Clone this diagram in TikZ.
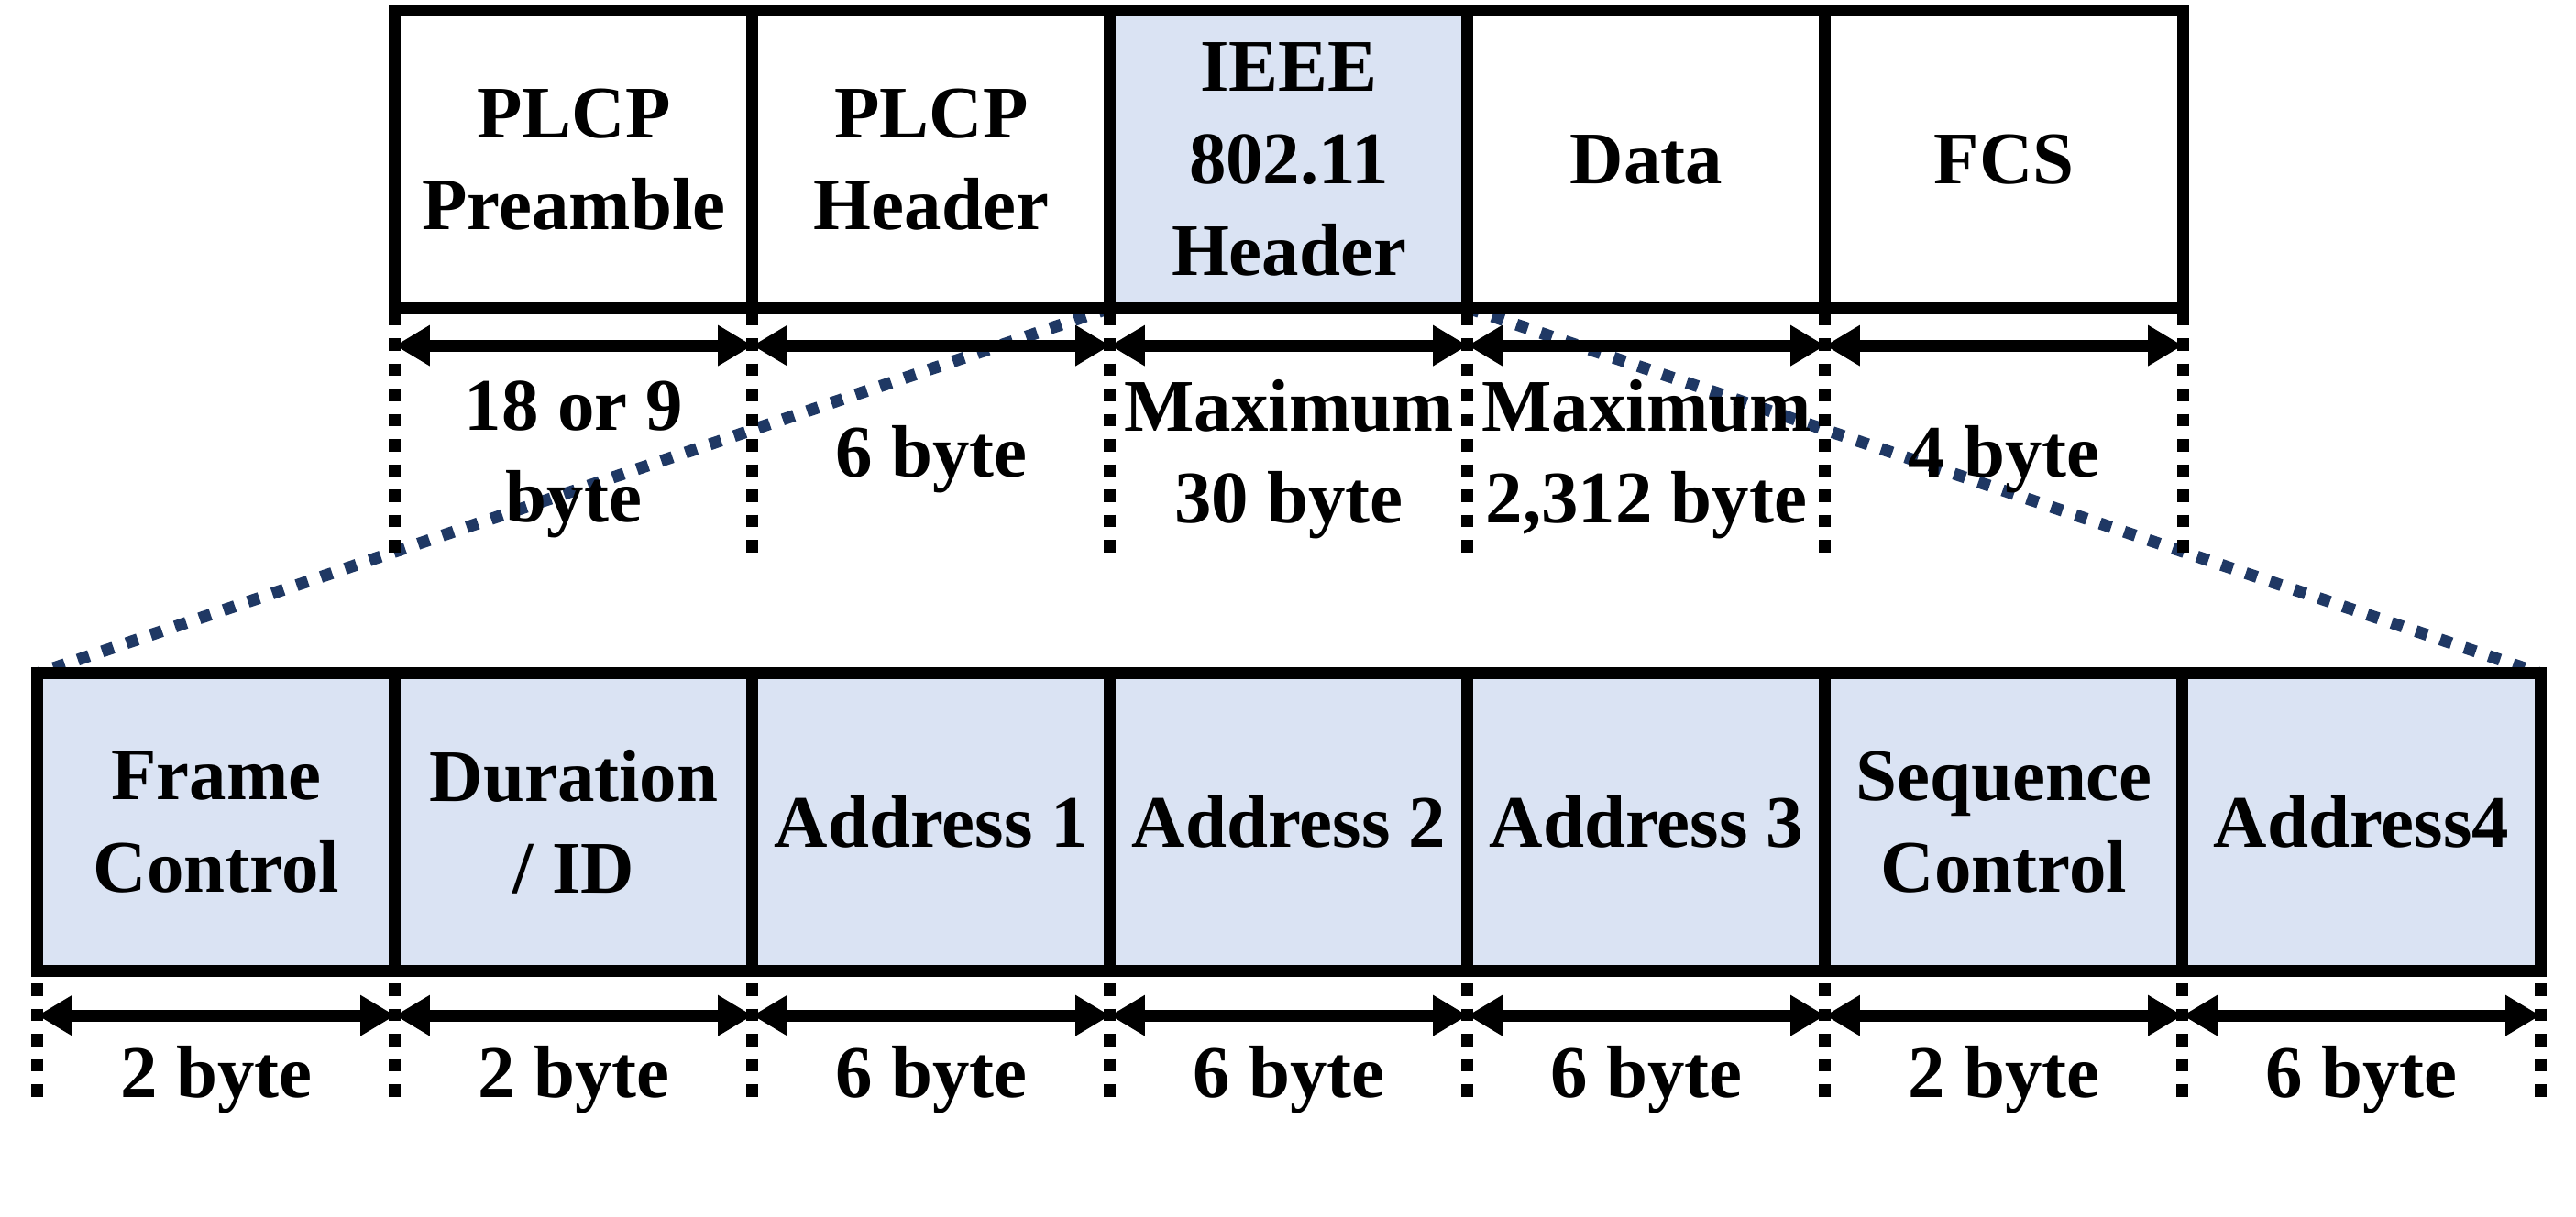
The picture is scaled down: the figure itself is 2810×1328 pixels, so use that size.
\documentclass[tikz,border=0pt]{standalone}
\usepackage{fontspec}
\setmainfont{Liberation Serif}
\usepackage{xcolor}
\usepackage{tikz}
\usetikzlibrary{arrows.meta,backgrounds}
\definecolor{hdrblue}{HTML}{DAE3F3}
\definecolor{zoomblue}{HTML}{1F3864}

\begin{document}
\begin{tikzpicture}[x=0.01cm, y=-0.01cm, font=\bfseries\fontsize{23}{28.5}\selectfont,
  field/.style={draw, line width=0.13cm, minimum width=3.9cm, minimum height=3.24cm,
    inner sep=0pt, outer sep=0pt, align=center},
  size/.style={align=center, inner sep=0pt},
  span/.style={line width=0.13cm,
    {Triangle[length=0.38cm,width=0.42cm]}-{Triangle[length=0.38cm,width=0.42cm]}},
  guide/.style={line width=0.13cm, dash pattern=on 0.135cm off 0.14cm},
  zoomline/.style={zoomblue, line width=0.13cm, dash pattern=on 0.13cm off 0.15cm}]
  \useasboundingbox (0,0) rectangle (2810,1328);
  \foreach \i/\txt/\col in {1/{PLCP\\Preamble}/white, 2/{PLCP\\Header}/white,
      3/{IEEE\\802.11\\Header}/hdrblue, 4/Data/white, 5/FCS/white}{
    \node[field, fill=\col] (f\i) at ({236+390*\i},174) {\txt};
    \draw[guide, dash phase=0.22cm] (f\i.south west) -- ++(0,267);
    \draw[span] ([yshift=-0.41cm]f\i.south west) -- ([yshift=-0.41cm]f\i.south east);}
  \draw[guide, dash phase=0.22cm] (f5.south east) -- ++(0,267);
  \foreach \i/\lab in {1/{18 or 9\\byte}, 2/6 byte, 3/{Maximum\\30 byte},
      4/{Maximum\\2,312 byte}, 5/4 byte}
    \node[size] (l\i) at ({236+390*\i},501) {\lab};
  \foreach \i/\txt/\lab in {1/{Frame\\Control}/2, 2/{Duration\\/ ID}/2, 3/Address 1/6,
      4/Address 2/6, 5/Address 3/6, 6/{Sequence\\Control}/2, 7/Address4/6}{
    \node[field, fill=hdrblue] (h\i) at ({-154+390*\i},897) {\txt};
    \draw[guide, dash phase=0.135cm] (h\i.south west) -- ++(0,139);
    \draw[span] ([yshift=-0.49cm]h\i.south west) -- ([yshift=-0.49cm]h\i.south east);
    \node[size] (b\i) at ({-154+390*\i},1178) {\lab{} byte};}
  \draw[guide, dash phase=0.135cm] (h7.south east) -- ++(0,139);
  \begin{scope}[on background layer]
    \draw[zoomline] (f3.south west) -- (h1.north west);
    \draw[zoomline] (f3.south east) -- (h7.north east);
  \end{scope}
\end{tikzpicture}
\end{document}
